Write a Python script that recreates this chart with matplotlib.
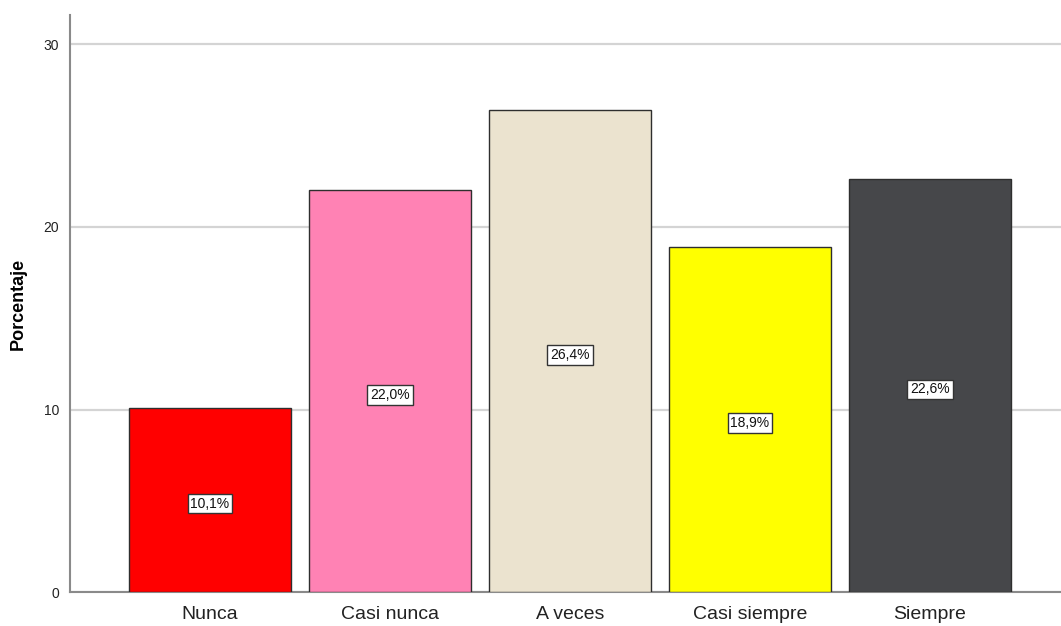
import matplotlib
matplotlib.use("Agg")
import numpy as np
from matplotlib import pyplot as plt

categories = ["Nunca", "Casi nunca", "A veces", "Casi siempre", "Siempre"]
percentages = [10.1, 22.0, 26.4, 18.9, 22.6]
bar_colors = ["#ff0000", "#ff82b4", "#ebe3cf", "#ffff00", "#46474a"]
y_ticks = [0, 10, 20, 30]

plt.rcParams["font.family"] = ["Liberation Sans", "DejaVu Sans"]

fig = plt.figure(figsize=(10.61, 6.26), dpi=100)
ax = fig.add_axes([0.066, 0.054, 0.934, 0.922])

x = np.arange(len(categories))
ax.bar(x, percentages, width=0.9, color=bar_colors, edgecolor="#2e2e2e",
       linewidth=1.0, zorder=3)

# value labels in small white boxes at half height
for xi, v in zip(x, percentages):
    ax.text(xi, v / 2 - 0.2, f"{v:.1f}%".replace(".", ","), ha="center",
            va="center", fontsize=10, color="#111111", zorder=4,
            bbox=dict(boxstyle="square,pad=0.2", facecolor="white",
                      edgecolor="#333333", linewidth=1.0))

ax.set_xlim(-0.778, 4.728)
ax.set_ylim(0, 31.6)
ax.set_yticks(y_ticks)
ax.set_yticklabels([str(t) for t in y_ticks], fontsize=10, color="#222222")
ax.set_xticks(x)
ax.set_xticklabels(categories, fontsize=14, color="#222222")
ax.tick_params(axis="y", length=0, pad=8)
ax.tick_params(axis="x", length=0, pad=10)

ax.yaxis.grid(True, color="#d4d4d4", linewidth=1.6, zorder=0)
ax.set_axisbelow(True)

for side in ["top", "right"]:
    ax.spines[side].set_visible(False)
for side in ["left", "bottom"]:
    ax.spines[side].set_color("#8a8a8a")
    ax.spines[side].set_linewidth(1.5)

ax.set_ylabel("Porcentaje", fontsize=13, fontweight="bold")
ax.yaxis.set_label_coords(-0.044, 0.5)

fig.savefig("out.png", dpi=100)
